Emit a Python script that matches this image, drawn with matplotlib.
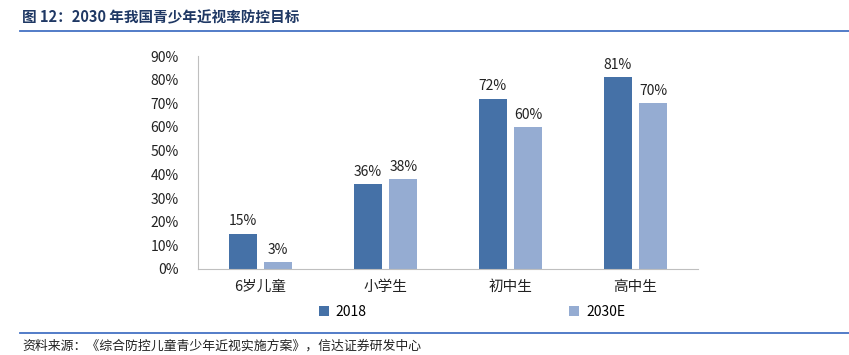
import matplotlib
matplotlib.use("Agg")
import matplotlib.pyplot as plt
import numpy as np
from matplotlib.lines import Line2D

plt.rcParams['font.family'] = ['Noto Sans CJK SC', 'DejaVu Sans']

categories = ["6岁儿童", "小学生", "初中生", "高中生"]
series_names = ["2018", "2030E"]
values_2018 = [15, 36, 72, 81]
values_2030 = [3, 38, 60, 70]
yticks = [0, 10, 20, 30, 40, 50, 60, 70, 80, 90]

c1 = "#4571A7"
c2 = "#95ACD2"

fig = plt.figure(figsize=(8.49, 3.55), dpi=100)
ax = fig.add_axes([198/849, 1-269/355, 500/849, 213/355])

x = np.arange(len(categories))
w = 0.225
off = 0.142
b1 = ax.bar(x - off, values_2018, w, color=c1, label=series_names[0])
b2 = ax.bar(x + off, values_2030, w, color=c2, label=series_names[1])

for bars, vals in ((b1, values_2018), (b2, values_2030)):
    for b, v in zip(bars, vals):
        ax.text(b.get_x() + b.get_width()/2, v + 2.2, f"{v}%", ha='center', va='bottom',
                fontsize=10, color='#222222')

ax.set_xlim(-0.5, len(categories) - 0.5)
ax.set_ylim(0, 90)
ax.set_yticks(yticks)
ax.set_yticklabels([f"{t}%" for t in yticks], fontsize=10, color='#222222')
ax.set_xticks(x)
ax.set_xticklabels(categories, fontsize=10.5, color='#222222')
ax.tick_params(axis='both', length=0)
ax.tick_params(axis='y', pad=14)
ax.tick_params(axis='x', pad=8)
for s in ['top', 'right']:
    ax.spines[s].set_visible(False)
ax.spines['left'].set_color('#BFBFBF')
ax.spines['bottom'].set_color('#BFBFBF')

# legend
fig.legend(handles=[b1, b2], labels=series_names, loc='center', bbox_to_anchor=(472/849, 1-312/355),
           ncol=2, frameon=False, fontsize=10, handlelength=0.7, handleheight=0.7,
           columnspacing=14.6, handletextpad=0.5)

# title and lines
fig.text(22/849, 1-17/355, "图 12：2030 年我国青少年近视率防控目标", fontsize=10.5, fontweight='bold',
         color='#1F3864', va='center', ha='left')
fig.add_artist(Line2D([20/849, 1.0], [1-31/355, 1-31/355], color='#4472C4', lw=1.3))
fig.add_artist(Line2D([20/849, 1.0], [1-333/355, 1-333/355], color='#4472C4', lw=1.3))
fig.text(22/849, 1-346/355, "资料来源：《综合防控儿童青少年近视实施方案》，信达证券研发中心", fontsize=9.3,
         color='#222222', va='center', ha='left', style='italic')

fig.savefig("out.png", dpi=100)
